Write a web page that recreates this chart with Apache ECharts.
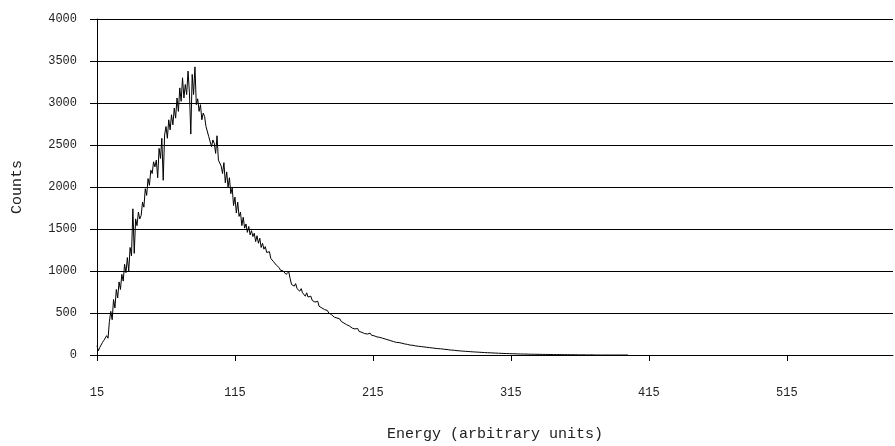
<!DOCTYPE html>
<html>
<head>
<meta charset="utf-8">
<script src="https://cdn.jsdelivr.net/npm/echarts@6/dist/echarts.min.js"></script>
<style>
    html, body { margin: 0; padding: 0; background: #fff; }
    #chart { width: 895px; height: 446px; }
</style>
</head>
<body>
<div id="chart"></div>
<script>
// first channel of the spectrum and last channel shown on the axis
const firstChannel = 15
const lastChannel = 592

// counts per channel (channels 15 .. 400)
const counts = [
    110, 50, 90, 80, 150, 175, 160, 230, 200, 400,
    520, 420, 660, 560, 780, 680, 870, 780, 960, 880,
    1080, 980, 1160, 1000, 1280, 1180, 1740, 1210, 1620, 1540,
    1700, 1620, 1660, 1820, 1760, 1980, 1900, 2100, 2020, 2200,
    2160, 2300, 2240, 2320, 2110, 2460, 2340, 2580, 2080, 2620,
    2720, 2580, 2800, 2680, 2860, 2740, 2940, 2820, 3060, 2900,
    3180, 3020, 3300, 3060, 3220, 3100, 3380, 3120, 2630, 3340,
    3100, 3430, 2980, 3050, 2900, 2980, 2800, 2880, 2840, 2720,
    2700, 2600, 2620, 2480, 2560, 2520, 2400, 2610, 2320, 2300,
    2250, 2160, 2290, 2050, 2180, 2000, 2110, 1920, 1990, 1780,
    1880, 1690, 1820, 1650, 1700, 1540, 1640, 1510, 1560, 1460,
    1530, 1430, 1480, 1410, 1450, 1350, 1420, 1330, 1390, 1280,
    1330, 1260, 1290, 1220, 1200, 1230, 1150, 1170, 1110, 1090,
    1070, 1060, 1040, 1010, 1030, 1000, 1000, 960, 950, 990,
    910, 840, 860, 820, 850, 790, 800, 760, 790, 740,
    760, 700, 740, 690, 680, 700, 650, 660, 630, 620,
    640, 580, 590, 560, 575, 540, 520, 530, 500, 510,
    480, 490, 450, 470, 440, 420, 430, 400, 415, 380,
    390, 360, 370, 345, 350, 320, 335, 310, 300, 315,
    280, 290, 270, 282, 255, 270, 250, 240, 260, 235,
    240, 228, 236, 215, 232, 210, 218, 200, 212, 190,
    198, 180, 190, 170, 178, 160, 172, 150, 162, 148,
    150, 140, 148, 132, 138, 126, 136, 118, 128, 115,
    120, 108, 118, 104, 112, 100, 108, 96, 104, 92,
    98, 88, 94, 84, 90, 80, 88, 76, 82, 74,
    80, 70, 74, 66, 72, 62, 68, 58, 66, 56,
    60, 52, 58, 49, 54, 46, 52, 44, 48, 42,
    46, 39, 44, 37, 41, 35, 39, 33, 37, 31,
    35, 29, 33, 27, 31, 26, 29, 24, 28, 23,
    26, 21, 24, 20, 23, 18, 22, 17, 20, 16,
    19, 15, 18, 14, 16, 13, 15, 12, 14, 11,
    12, 11, 12, 10, 11, 9, 10, 9, 10, 8,
    9, 8, 9, 7, 8, 7, 8, 6, 7, 6,
    7, 5, 6, 5, 6, 5, 6, 4, 5, 4,
    5, 4, 4, 3, 4, 3, 4, 3, 3, 2,
    3, 2, 3, 2, 2, 1, 2, 1, 0, 2,
    0, 0, 0, 0, 0, 0, 0, 0, 0, 0,
    0, 0, 3, 0, 0, 0, 0, 0, 0, 0,
    0, 0, 0, 0, 3, 0
]

const xTitle = 'Energy (arbitrary units)'
const yTitle = 'Counts'

// channel labels for the category axis
const channels = []
for (let c = firstChannel; c <= lastChannel; c++) {
    channels.push(String(c))
}

const font = 'Liberation Mono'

var myChart = echarts.init(document.getElementById('chart'), null, { renderer: 'canvas' })

var option = {
    animation: false,
    backgroundColor: '#fff',
    grid: {
        left: 97,
        right: 2,
        top: 19,
        bottom: 91,
        // keep the plot box fixed, labels sit below it
        outerBoundsMode: 'none'
    },
    xAxis: {
        type: 'category',
        data: channels,
        boundaryGap: false,
        name: xTitle,
        nameLocation: 'middle',
        nameGap: 72,
        nameTextStyle: { fontFamily: font, fontSize: 15, color: '#222' },
        axisLine: { lineStyle: { color: '#000', width: 1 } },
        axisTick: { interval: 99, length: 6, lineStyle: { color: '#000' } },
        axisLabel: {
            interval: 99,
            margin: 32,
            fontFamily: font,
            fontSize: 12,
            color: '#222'
        },
        splitLine: { show: false }
    },
    yAxis: {
        type: 'value',
        min: 0,
        max: 4000,
        interval: 500,
        name: yTitle,
        nameLocation: 'middle',
        nameGap: 72,
        nameTextStyle: { fontFamily: font, fontSize: 15, color: '#222' },
        axisLine: { show: true, lineStyle: { color: '#000', width: 1 } },
        axisTick: { show: true, length: 7, lineStyle: { color: '#000' } },
        axisLabel: {
            margin: 20,
            fontFamily: font,
            fontSize: 12,
            color: '#222',
            // no thousands separator, as in the original
            formatter: value => String(value)
        },
        splitLine: { show: true, lineStyle: { color: '#000', width: 1 } }
    },
    series: [{
        type: 'line',
        data: counts,
        showSymbol: false,
        symbol: 'none',
        sampling: null,
        lineStyle: { color: '#000', width: 1 },
        emphasis: { disabled: true }
    }]
}

myChart.setOption(option)
</script>
</body>
</html>
